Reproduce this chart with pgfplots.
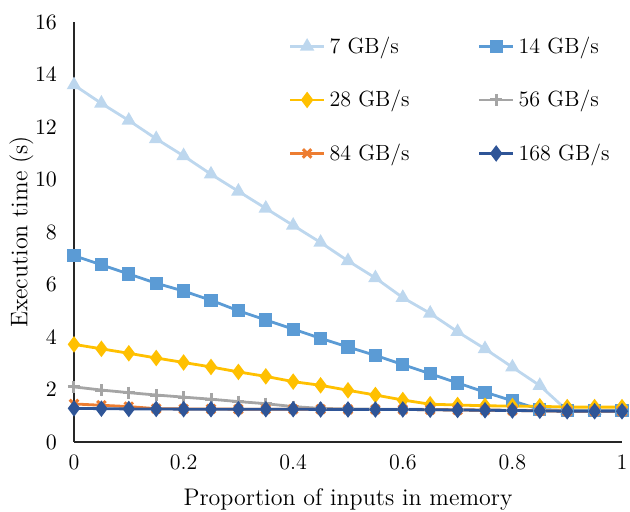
\documentclass[border=0pt]{standalone}
\usepackage{pgfplots}
\pgfplotsset{compat=1.18}
\definecolor{c7}{HTML}{BDD7EE}
\definecolor{c14}{HTML}{5B9BD5}
\definecolor{c28}{HTML}{FFC000}
\definecolor{c56}{HTML}{A5A5A5}
\definecolor{c84}{HTML}{ED7D31}
\definecolor{c168}{HTML}{2F5597}
\begin{document}
\begin{tikzpicture}
\begin{axis}[
  scale only axis, width=274pt, height=210pt,
  xmin=0, xmax=1, ymin=0, ymax=16,
  axis x line=bottom, axis y line=left,
  axis line style={-, line width=1pt, black!85},
  xtick={0,0.2,0.4,0.6,0.8,1}, xticklabels={0,0.2,0.4,0.6,0.8,1},
  ytick={0,2,4,6,8,10,12,14,16},
  major tick length=0pt,
  tick label style={font=\fontsize{11}{13}\selectfont},
  xticklabel style={yshift=-3pt},
  yticklabel style={xshift=-5pt},
  label style={font=\fontsize{12}{14}\selectfont},
  xlabel={Proportion of inputs in memory},
  ylabel={Execution time (s)},
  xlabel style={yshift=-2pt},
  ylabel style={yshift=-6pt},
  clip=false,
  every axis plot/.append style={line width=1.4pt},
  legend columns=2,
  legend style={draw=none, fill=none, at={(0.38,0.985)}, anchor=north west,
    font=\fontsize{11}{13}\selectfont, row sep=13pt,
    /tikz/column 2/.style={column sep=32pt}},
  legend cell align=left,
]
\addplot[c7, mark=triangle*, mark size=2.8pt] coordinates {
(0,13.6)(0.05,12.9)(0.1,12.25)(0.15,11.55)(0.2,10.9)(0.25,10.2)(0.3,9.55)(0.35,8.9)(0.4,8.25)(0.45,7.6)(0.5,6.9)(0.55,6.25)(0.6,5.5)(0.65,4.9)(0.7,4.2)(0.75,3.55)(0.8,2.85)(0.85,2.15)(0.9,1.2)(0.95,1.2)(1,1.2)};
\addlegendentry{7 GB/s}
\addplot[c14, mark=square*, mark size=2.6pt] coordinates {
(0,7.1)(0.05,6.75)(0.1,6.4)(0.15,6.05)(0.2,5.75)(0.25,5.4)(0.3,5.0)(0.35,4.65)(0.4,4.3)(0.45,3.95)(0.5,3.62)(0.55,3.3)(0.6,2.95)(0.65,2.6)(0.7,2.25)(0.75,1.9)(0.8,1.57)(0.85,1.24)(0.9,1.2)(0.95,1.2)(1,1.2)};
\addlegendentry{14 GB/s}
\addplot[c28, mark=diamond*, mark size=3pt] coordinates {
(0,3.72)(0.05,3.55)(0.1,3.38)(0.15,3.2)(0.2,3.03)(0.25,2.86)(0.3,2.67)(0.35,2.5)(0.4,2.3)(0.45,2.16)(0.5,1.97)(0.55,1.79)(0.6,1.6)(0.65,1.44)(0.7,1.41)(0.75,1.38)(0.8,1.37)(0.85,1.36)(0.9,1.33)(0.95,1.33)(1,1.33)};
\addlegendentry{28 GB/s}
\addplot[c56, mark=+, mark size=3pt, mark options={line width=1.5pt}] coordinates {
(0,2.1)(0.05,1.98)(0.1,1.88)(0.15,1.79)(0.2,1.71)(0.25,1.63)(0.3,1.54)(0.35,1.46)(0.4,1.35)(0.45,1.28)(0.5,1.26)(0.55,1.25)(0.6,1.25)(0.65,1.24)(0.7,1.23)(0.75,1.22)(0.8,1.21)(0.85,1.2)(0.9,1.18)(0.95,1.18)(1,1.18)};
\addlegendentry{56 GB/s}
\addplot[c84, mark=x, mark size=3pt, mark options={line width=1.5pt}] coordinates {
(0,1.45)(0.05,1.4)(0.1,1.35)(0.15,1.27)(0.2,1.26)(0.25,1.26)(0.3,1.25)(0.35,1.25)(0.4,1.25)(0.45,1.25)(0.5,1.24)(0.55,1.24)(0.6,1.24)(0.65,1.23)(0.7,1.22)(0.75,1.21)(0.8,1.2)(0.85,1.19)(0.9,1.17)(0.95,1.17)(1,1.17)};
\addlegendentry{84 GB/s}
\addplot[c168, mark=diamond*, mark size=3pt] coordinates {
(0,1.28)(0.05,1.27)(0.1,1.26)(0.15,1.26)(0.2,1.25)(0.25,1.25)(0.3,1.25)(0.35,1.25)(0.4,1.25)(0.45,1.24)(0.5,1.24)(0.55,1.24)(0.6,1.24)(0.65,1.23)(0.7,1.22)(0.75,1.21)(0.8,1.2)(0.85,1.19)(0.9,1.17)(0.95,1.17)(1,1.17)};
\addlegendentry{168 GB/s}
\end{axis}
\pgfresetboundingbox
\path (-37pt,-34.5pt) rectangle (278pt,221pt);
\end{tikzpicture}
\end{document}
